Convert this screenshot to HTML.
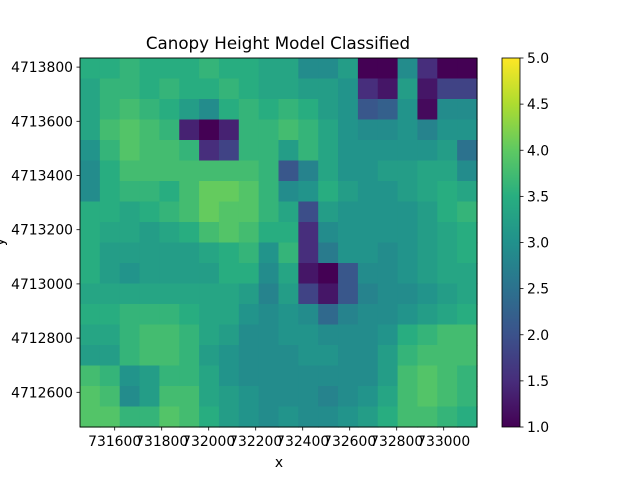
<!DOCTYPE html>
<html><head><meta charset="utf-8"><style>
body{margin:0;background:#fff;font-family:"Liberation Sans","DejaVu Sans",sans-serif}
svg text{font-family:"DejaVu Sans","Liberation Sans",sans-serif}
</style></head><body>
<svg id="c" width="640" height="480" xmlns="http://www.w3.org/2000/svg">
<defs><linearGradient id="vir" x1="0" y1="1" x2="0" y2="0">
<stop offset="0" stop-color="#440154"/><stop offset="0.125" stop-color="#472d7b"/><stop offset="0.25" stop-color="#3b528b"/><stop offset="0.375" stop-color="#2c728e"/><stop offset="0.5" stop-color="#21918c"/><stop offset="0.625" stop-color="#28ae80"/><stop offset="0.75" stop-color="#5ec962"/><stop offset="0.875" stop-color="#addc30"/><stop offset="1" stop-color="#fde725"/></linearGradient></defs>
<text x="278" y="49" font-size="16.7" text-anchor="middle">Canopy Height Model Classified</text>
<g id="cells"></g>
<rect x="80" y="58" width="397" height="369" fill="none" stroke="#000" stroke-width="0.9"/>
<g id="axes"></g>
<text x="279" y="467" font-size="13.9" text-anchor="middle">x</text>
<text x="4" y="242" font-size="13.9" text-anchor="middle" transform="rotate(-90 4 242)">y</text>
<rect x="502" y="58" width="18" height="369" fill="url(#vir)" stroke="#000" stroke-width="0.8"/>
<g id="cb"></g>
</svg>
<script>
const gridValues = [
[3.4,3.4,3.5,3.4,3.4,3.4,3.5,3.4,3.4,3.3,3.3,3.0,3.0,3.2,1.5,1.5,3.0,2.0,1.2,1.2],
[3.3,3.5,3.5,3.4,3.5,3.4,3.4,3.5,3.4,3.3,3.3,3.2,3.2,3.1,2.0,1.8,3.2,1.8,2.2,2.2],
[3.3,3.5,3.6,3.5,3.4,3.2,3.0,3.4,3.5,3.4,3.5,3.4,3.2,3.1,2.4,2.5,3.1,1.7,3.0,3.0],
[3.3,3.6,3.7,3.6,3.5,1.9,1.3,1.9,3.5,3.5,3.6,3.5,3.3,3.1,3.0,3.0,3.1,2.9,3.1,3.1],
[3.1,3.5,3.7,3.6,3.6,3.5,2.0,2.2,3.5,3.5,3.2,3.5,3.3,3.1,3.1,3.1,3.1,3.1,3.2,2.7],
[3.0,3.4,3.6,3.6,3.6,3.6,3.6,3.6,3.6,3.5,2.4,2.9,3.3,3.1,3.1,3.2,3.2,3.3,3.3,3.0],
[3.0,3.4,3.5,3.5,3.4,3.6,3.8,3.8,3.7,3.5,3.0,3.1,3.4,3.2,3.1,3.1,3.2,3.3,3.4,3.3],
[3.4,3.4,3.3,3.4,3.5,3.6,3.8,3.7,3.7,3.5,3.3,2.3,3.2,3.1,3.1,3.1,3.1,3.2,3.4,3.5],
[3.4,3.3,3.3,3.2,3.3,3.4,3.6,3.7,3.6,3.4,3.4,2.0,3.0,3.1,3.1,3.1,3.1,3.2,3.3,3.4],
[3.4,3.2,3.2,3.2,3.2,3.2,3.3,3.4,3.5,3.1,3.5,2.0,2.8,3.1,3.1,3.0,3.1,3.2,3.3,3.4],
[3.4,3.2,3.1,3.2,3.2,3.2,3.2,3.4,3.4,3.0,3.3,1.8,1.6,2.4,3.0,3.0,3.1,3.2,3.3,3.3],
[3.3,3.3,3.3,3.3,3.3,3.3,3.3,3.3,3.2,2.9,3.2,2.2,1.8,2.4,2.9,3.0,3.0,3.1,3.2,3.3],
[3.4,3.4,3.5,3.5,3.5,3.4,3.3,3.3,3.1,3.0,3.1,3.0,2.6,2.9,3.0,3.0,3.1,3.2,3.3,3.4],
[3.3,3.3,3.5,3.6,3.6,3.5,3.3,3.2,3.0,3.0,3.1,3.1,3.0,3.0,3.0,3.1,3.4,3.5,3.6,3.6],
[3.2,3.2,3.5,3.6,3.6,3.5,3.2,3.1,3.0,3.0,3.0,3.1,3.1,3.0,3.0,3.2,3.5,3.6,3.6,3.6],
[3.6,3.5,3.1,3.2,3.5,3.5,3.3,3.1,3.0,3.0,3.0,3.0,3.0,3.0,3.0,3.2,3.6,3.7,3.6,3.5],
[3.7,3.6,3.0,3.2,3.6,3.6,3.3,3.2,3.1,3.0,3.0,3.0,2.9,3.0,3.1,3.3,3.6,3.7,3.6,3.5],
[3.7,3.7,3.5,3.5,3.7,3.6,3.4,3.2,3.1,3.0,3.1,3.0,3.0,3.1,3.2,3.4,3.6,3.6,3.5,3.4]
];
const xTicks = [731600,731800,732000,732200,732400,732600,732800,733000];
const yTicks = [4712600,4712800,4713000,4713200,4713400,4713600,4713800];
const cbTicks = [1.0,1.5,2.0,2.5,3.0,3.5,4.0,4.5,5.0];
const NS="http://www.w3.org/2000/svg";
const X0=80,X1=477,Y0=58,Y1=427;
const xScale=v=>114.7+(v-731600)*0.235;
const yScale=v=>392.3-(v-4712600)*(54.2/200);
const cbScale=v=>427-(v-1)/4*369;
const stops=[[68,1,84],[71,45,123],[59,82,139],[44,114,142],[33,145,140],[40,174,128],[94,201,98],[173,220,48],[253,231,37]];
function vir(v){v=3.2+(v-3.2)*1.4;let t=Math.max(0,Math.min(1,(v-1)/4))*8;let i=Math.min(7,Math.floor(t)),f=t-i;const a=stops[i],b=stops[i+1];return `rgb(${a.map((c,k)=>Math.round(c+(b[k]-c)*f)).join(',')})`;}
function mk(tag,attrs,parent){const e=document.createElementNS(NS,tag);for(const k in attrs)e.setAttribute(k,attrs[k]);parent.appendChild(e);return e;}
const cells=document.getElementById('cells');
const rows=gridValues.length,cols=gridValues[0].length;
const cw=(X1-X0)/cols,ch=(Y1-Y0)/rows;
gridValues.forEach((row,j)=>row.forEach((v,i)=>{
 const r=mk('rect',{x:X0+i*cw,y:Y0+j*ch,width:cw+0.6,height:ch+0.6,fill:vir(v)},cells);
 
 
}));
const ax=document.getElementById('axes');
xTicks.forEach(t=>{const x=xScale(t);
 const l=mk('line',{x1:x,x2:x,y1:Y1,y2:Y1+3.5,stroke:'#000','stroke-width':0.8},ax);
 
 
 const s=mk('text',{x:x,y:Y1+19,'font-size':13.9,'text-anchor':'middle'},ax);s.textContent=t;
 
 
});
yTicks.forEach(t=>{const y=yScale(t);
 const l=mk('line',{x1:X0-3.5,x2:X0,y1:y,y2:y,stroke:'#000','stroke-width':0.8},ax);
 
 
 const s=mk('text',{x:X0-7,y:y+5,'font-size':13.9,'text-anchor':'end'},ax);s.textContent=t;
 
 
});
const cb=document.getElementById('cb');
cbTicks.forEach(t=>{const y=cbScale(t);
 const l=mk('line',{x1:520,x2:523.5,y1:y,y2:y,stroke:'#000','stroke-width':0.8},cb);
 
 
 const s=mk('text',{x:527,y:y+5,'font-size':13.9},cb);s.textContent=t.toFixed(1);
 
 
});
</script>
</body></html>
